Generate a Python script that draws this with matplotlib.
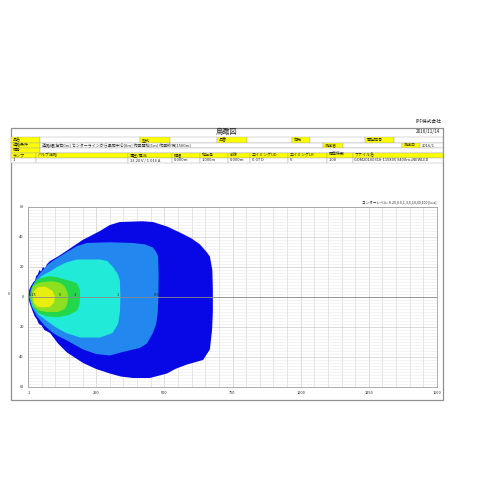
import matplotlib.pyplot as plt
from matplotlib.patches import Rectangle

plt.rcParams['font.family'] = ['Noto Sans CJK JP', 'DejaVu Sans']
plt.rcParams['text.color'] = '#222222'

title = '鳥瞰図'
company = 'IPF株式会社'
date = '2016/11/14'

row1_labels = ['品名', '型式', '品番', '向先', '開発記号']
row2_labels = ['道路条件', '測定者', '測定日']
road_text = '道路幅[左右0m] センターラインから車両中心[0m] 作図開始[1m] 作図終端[1500m]'
measure_date = '2016/1'
note_label = '備考'
lamp_headers = ['ランプ', 'バルブ定格', '電圧/電流', '横幅', '地上高', '前後',
                'エイミングUD', 'エイミングLR', '標準係数', 'ファイル名']
lamp_values = ['1', '', '13.20 V / 1.016 A', '0.000m', '1.000m', '0.000m',
               '0.07 D', 'V', '1.00', 'GOM20160318-115805 9400m+NEWLED']

level_note = 'コンターレベル: 0.25,0.5,1,3,5,10,30,100 [Lux]'

# iso-lux outlines: x = distance [m], y = lateral [m]
lux025_x = [0, 5, 10, 20, 26, 30, 36, 42, 48, 55, 62, 70, 81, 110, 143, 200, 264, 300, 337, 420, 458,
            510, 557, 600, 631, 655, 667, 676, 678, 678, 675, 670, 667, 642, 583, 540, 510, 447, 385,
            340, 300, 250, 202, 143, 110, 81, 60, 50, 40, 33, 25, 18, 8, 0]
lux025_y = [0, 5, 7, 10, 11, 14, 15, 18, 17, 20, 19, 22, 24, 27, 31, 38, 44, 48, 50, 50.5, 50,
            47, 43, 39, 35, 30, 27, 18, 5, -10, -22, -30, -35, -42, -45, -48, -51, -54, -54,
            -53, -51, -48, -44, -37, -31, -24, -22, -19, -18, -15, -13, -10, -5, 0]

lux05_x = [4, 10, 15, 25, 33, 45, 55, 75, 99, 143, 180, 216, 300, 385, 430, 458, 470, 477, 479, 478,
           476, 470, 458, 436, 410, 385, 340, 300, 250, 202, 143, 110, 92, 60, 33, 15, 4]
lux05_y = [0, 5, 7, 10, 13, 16, 18, 22, 25, 30, 34, 36, 36.5, 36, 35, 33, 30, 27, 15, 0,
           -10, -18, -24, -31, -34, -35, -37, -39, -38, -35, -29, -26, -24, -19, -13, -7, 0]

lux1_x = [6, 15, 33, 50, 70, 90, 106, 140, 180, 264, 290, 312, 330, 337, 339, 337, 330, 310, 264,
          191, 140, 100, 70, 40, 15, 6]
lux1_y = [0, 6, 11, 14, 16, 18, 20, 23, 25, 25, 24, 20, 15, 11, 0, -10, -18, -24, -27,
          -27, -24, -20, -16, -12, -6, 0]

lux3_x = [7, 12, 18, 30, 44, 81, 110, 128, 160, 180, 190, 191, 189, 180, 150, 110, 70, 40, 20, 7]
lux3_y = [0, 5, 8, 11, 12.5, 14, 13, 12, 10.5, 9, 5, 0, -5, -9, -12, -13.5, -13, -11, -7, 0]

lux5_x = [10, 18, 35, 55, 90, 117, 135, 145, 147, 145, 135, 110, 70, 40, 20, 10]
lux5_y = [0, 7, 9, 10, 10.5, 9.5, 7, 3, 0, -4, -8, -10, -10, -9, -6, 0]

lux10_x = [18, 22, 37, 60, 73, 90, 99, 95, 80, 55, 35, 22, 18]
lux10_y = [0, 4, 6.5, 7, 6, 4, 0, -4, -6.5, -7, -6.5, -4, 0]

outlines = [(lux025_x, lux025_y), (lux05_x, lux05_y), (lux1_x, lux1_y),
            (lux3_x, lux3_y), (lux5_x, lux5_y), (lux10_x, lux10_y)]
fill_colors = ['#0808E6', '#2288F0', '#22EAD8', '#22D84A', '#8CE020', '#E8EE10']

label_text = ['0.25', '5', '3', '1', '0.5']
label_x = [3, 117, 172, 330, 470]

x_ticks = [1, 250, 500, 750, 1000, 1250, 1500]
y_ticks = [-60, -40, -20, 0, 20, 40, 60]

fig = plt.figure(figsize=(5, 5), dpi=100)

# page layer in pixel coordinates
page = fig.add_axes([0, 0, 1, 1])
page.set_xlim(0, 500)
page.set_ylim(500, 0)
page.axis('off')

fs = 2.9
edge = '#A8A8A8'
page.add_patch(Rectangle((11, 128), 432, 272, fill=False, ec='#909090', lw=0.9))
page.text(442, 121, company, fontsize=3.4, ha='right', va='center')
page.text(227, 132, title, fontsize=5.2, ha='center', va='center')
page.text(440, 132, date, fontsize=3.4, ha='right', va='center')


def cell(x0, x1, y0, y1, text='', yellow=False):
    page.add_patch(Rectangle((x0, y0), x1 - x0, y1 - y0, fc='#FFFF00' if yellow else 'white',
                             ec=edge, lw=0.3))
    if text:
        page.text(x0 + 1.5, (y0 + y1) / 2, text, fontsize=fs, ha='left', va='center')


rows = [137, 142.5, 148, 152.5, 157.5, 162.5]

# row 1
r1_edges = [11, 40, 140, 170, 217, 247, 292, 310, 365, 394, 443]
for i in range(len(r1_edges) - 1):
    if i % 2 == 0:
        cell(r1_edges[i], r1_edges[i + 1], rows[0], rows[1], row1_labels[i // 2], True)
    else:
        cell(r1_edges[i], r1_edges[i + 1], rows[0], rows[1])

# row 2
cell(11, 40, rows[1], rows[2], row2_labels[0], True)
cell(40, 323, rows[1], rows[2], road_text)
cell(323, 343, rows[1], rows[2], row2_labels[1], True)
cell(343, 402, rows[1], rows[2])
cell(402, 420, rows[1], rows[2], row2_labels[2], True)
cell(420, 443, rows[1], rows[2], measure_date)

# row 3
cell(11, 40, rows[2], rows[3], note_label, True)
cell(40, 443, rows[2], rows[3])

# lamp header and values
lamp_edges = [11, 36, 128, 172, 200, 228, 250, 288, 327, 353, 443]
for i in range(len(lamp_headers)):
    cell(lamp_edges[i], lamp_edges[i + 1], rows[3], rows[4], lamp_headers[i], True)
    cell(lamp_edges[i], lamp_edges[i + 1], rows[4], rows[5], lamp_values[i])

page.text(436, 202, level_note, fontsize=2.6, ha='right', va='center')

# iso-lux chart
ax = fig.add_axes([28 / 500, 1 - 387 / 500, 409 / 500, 180 / 500])
ax.set_xlim(1, 1500)
ax.set_ylim(-60, 60)
ax.set_axisbelow(True)
ax.set_xticks(range(0, 1501, 50), minor=True)
ax.set_yticks(range(-60, 61, 2), minor=True)
ax.grid(True, which='minor', axis='y', color='#EBEBEB', lw=0.4)
ax.grid(True, which='minor', axis='x', color='#D4D4D4', lw=0.45)
ax.grid(True, which='major', color='#CCCCCC', lw=0.5)
ax.set_xticks(x_ticks)
ax.set_xticklabels([str(v) for v in x_ticks])
ax.set_yticks(y_ticks)
ax.set_yticklabels([str(abs(v)) for v in y_ticks])
ax.tick_params(which='both', length=0, labelsize=2.8, pad=3, labelcolor='#222222')

for (xs, ys), c in zip(outlines, fill_colors):
    ax.fill(xs, ys, color=c, lw=0, zorder=2)

ax.axhline(0, color='#8A8A8A', lw=0.6, zorder=3)
for t, x in zip(label_text, label_x):
    ax.text(x, 0, t, fontsize=2.8, ha='left' if t == '0.25' else 'center', va='bottom', zorder=4)

for s in ax.spines.values():
    s.set_color('#A0A0A0')
    s.set_linewidth(0.6)

page.text(9, 294, '0', fontsize=2.6, ha='center', va='center')

fig.savefig('out.png', dpi=100)
